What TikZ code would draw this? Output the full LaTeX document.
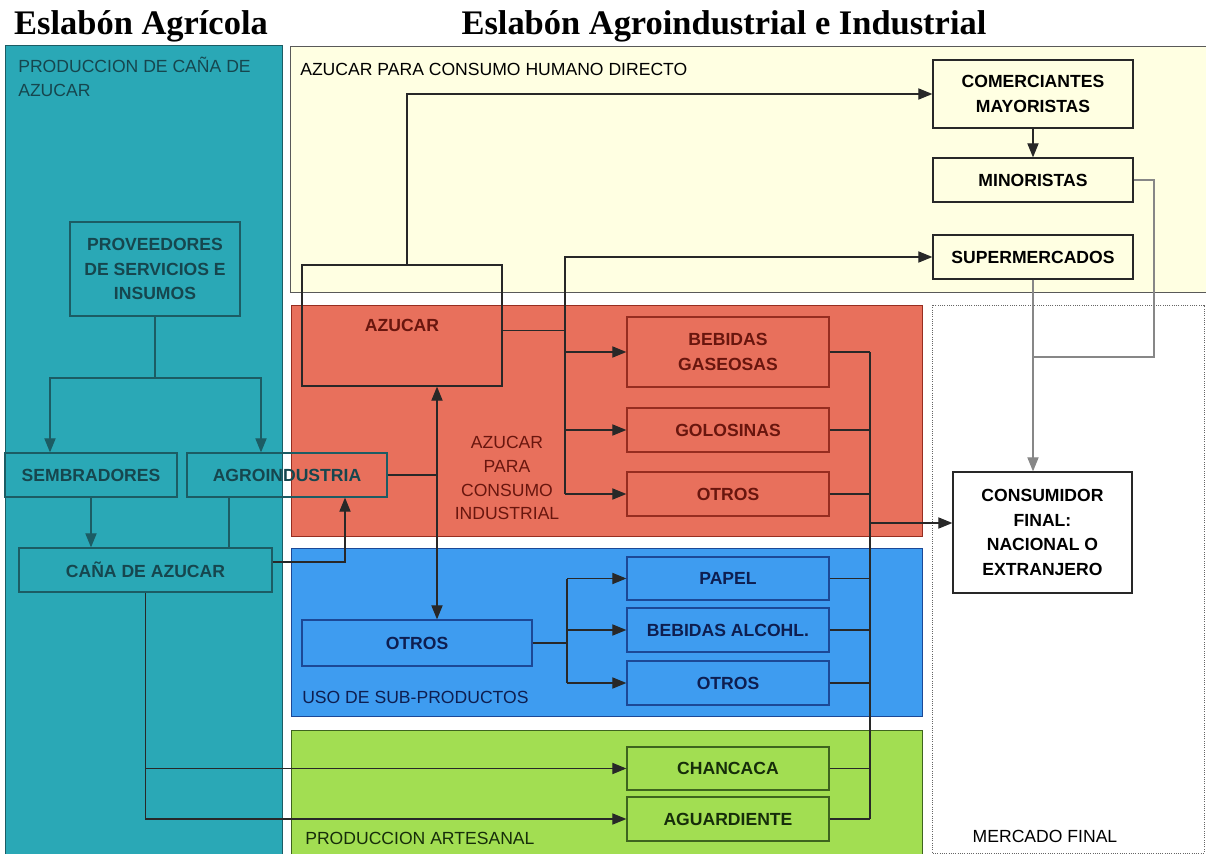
\documentclass[tikz,border=0pt]{standalone}
\usepackage{fontspec}
\setmainfont{Liberation Sans}
\newfontfamily\titlefont{Liberation Serif}
\usetikzlibrary{arrows.meta}

\definecolor{teal}{RGB}{42,168,182}
\definecolor{tealborde}{RGB}{28,92,100}
\definecolor{tealtexto}{RGB}{22,70,78}
\definecolor{amarillo}{RGB}{255,255,226}
\definecolor{rojo}{RGB}{232,112,92}
\definecolor{rojoborde}{RGB}{150,45,32}
\definecolor{rojotexto}{RGB}{105,22,14}
\definecolor{azul}{RGB}{62,156,240}
\definecolor{azulborde}{RGB}{28,72,150}
\definecolor{azultexto}{RGB}{14,30,80}
\definecolor{verde}{RGB}{162,222,82}
\definecolor{verdeborde}{RGB}{62,100,30}
\definecolor{verdetexto}{RGB}{22,45,10}
\definecolor{lineacol}{RGB}{40,40,40}
\definecolor{grisclaro}{RGB}{135,135,135}

\tikzset{
  titulo/.style={font=\titlefont\bfseries\fontsize{24.5}{28}\selectfont, inner sep=0pt},
  panel/.style={line width=0.6pt},
  rotulo/.style={font=\fontsize{12.5}{17}\selectfont, inner sep=0pt},
  caja/.style={draw, line width=0.9pt, inner sep=0pt, align=center,
    minimum width=5.05cm, minimum height=1.1cm,
    font=\bfseries\fontsize{12.5}{17.5}\selectfont},
  cajateal/.style={caja, draw=tealborde, text=tealtexto},
  cajaroja/.style={caja, draw=rojoborde, text=rojotexto},
  cajaazul/.style={caja, draw=azulborde, text=azultexto},
  cajaverde/.style={caja, draw=verdeborde, text=verdetexto},
  cajaamar/.style={caja, draw=lineacol, text=black},
  linea/.style={draw=lineacol, line width=0.8pt},
  flecha/.style={linea, -{Triangle[length=10pt,width=8pt]}},
  dflecha/.style={linea, {Triangle[length=10pt,width=8pt]}-{Triangle[length=10pt,width=8pt]}},
}

\begin{document}
\begin{tikzpicture}[x=0.025cm,y=-0.025cm]
\useasboundingbox (0,0) rectangle (1206,854);
% titulos
\node[titulo] (tagr) at (141,26) {Eslabón Agrícola};
\node[titulo] (tind) at (724,26) {Eslabón Agroindustrial e Industrial};
% paneles
\draw[panel, fill=teal, draw=tealborde] (5,45) rectangle (282,854);
\draw[panel, fill=amarillo, draw=gray!70!black] (290,46) rectangle (1206,292);
\draw[panel, fill=rojo, draw=rojoborde] (291,305) rectangle (922,536);
\draw[panel, fill=azul, draw=azulborde] (291,548) rectangle (922,716);
\draw[panel, fill=verde, draw=verdeborde] (291,730) rectangle (922,854);
\draw[panel, densely dotted, draw=gray!80!black] (932,305) rectangle (1204,853);
\node[rotulo, text=tealtexto, anchor=north west, align=left] (lprod) at (18,57) {PRODUCCION DE CAÑA DE\\AZUCAR};
\node[rotulo, anchor=west] (lhum) at (300,69) {AZUCAR PARA CONSUMO HUMANO DIRECTO};
\node[rotulo, text=rojotexto, align=center] (lind) at (507,478) {AZUCAR\\PARA\\CONSUMO\\INDUSTRIAL};
\node[rotulo, text=azultexto, anchor=west] (lsub) at (302,697) {USO DE SUB-PRODUCTOS};
\node[rotulo, text=verdetexto, anchor=west] (lart) at (305,838) {PRODUCCION ARTESANAL};
\node[rotulo] (lmer) at (1045,836) {MERCADO FINAL};
% eslabon agricola
\node[cajateal, minimum width=4.25cm, minimum height=2.35cm] (prov) at (155,269) {PROVEEDORES\\DE SERVICIOS E\\INSUMOS};
\node[cajateal, minimum width=4.3cm] (semb) at (91,475) {SEMBRADORES};
\node[cajateal, minimum width=5cm] (agro) at (287,475) {AGROINDUSTRIA};
\node[cajateal, minimum width=6.325cm] (cana) at (145.5,570) {CAÑA DE AZUCAR};
% eslabon industrial
\node[cajaroja, draw=lineacol, minimum width=5cm, minimum height=3.025cm] (azu) at (402,325.5) {AZUCAR};
\node[cajaroja, minimum height=1.75cm] (beb) at (728,352) {BEBIDAS\\GASEOSAS};
\node[cajaroja] (gol) at (728,430) {GOLOSINAS};
\node[cajaroja] (otr) at (728,494) {OTROS};
\node[cajaazul, minimum width=5.75cm, minimum height=1.15cm] (otb) at (417,643) {OTROS};
\node[cajaazul, minimum height=1.075cm] (pap) at (728,578.5) {PAPEL};
\node[cajaazul] (bal) at (728,630) {BEBIDAS ALCOHL.};
\node[cajaazul] (otc) at (728,683) {OTROS};
\node[cajaverde, minimum height=1.075cm] (cha) at (728,768.5) {CHANCACA};
\node[cajaverde] (agu) at (728,819) {AGUARDIENTE};
% comercio y mercado final
\node[cajaamar, minimum width=5cm, minimum height=1.7cm] (com) at (1033,94) {COMERCIANTES\\MAYORISTAS};
\node[cajaamar, minimum width=5cm] (mino) at (1033,180) {MINORISTAS};
\node[cajaamar, minimum width=5cm] (super) at (1033,257) {SUPERMERCADOS};
\node[cajaamar, fill=white, minimum width=4.475cm, minimum height=3.025cm] (con) at (1042.5,532.5) {CONSUMIDOR\\FINAL:\\NACIONAL O\\EXTRANJERO};
% conectores eslabon agricola
\coordinate (jp) at (155,378);
\coordinate (xsem) at (50,0);
\coordinate (xagr) at (261,0);
\coordinate (xagc) at (229,0);
\coordinate (xcan) at (345,0);
\draw[linea, draw=tealborde] (prov.south) -- (jp);
\draw[flecha, draw=tealborde] (jp) -| (xsem |- semb.north);
\draw[flecha, draw=tealborde] (jp) -| (xagr |- agro.north);
\draw[flecha, draw=tealborde] (semb.south) -- (semb.south |- cana.north);
\draw[linea, draw=tealborde] (xagc |- agro.south) -- (xagc |- cana.north);
\draw[flecha] ([yshift=0.2cm]cana.east) -| (xcan |- agro.south);
\draw[flecha] (cana.south) |- (agu.west);
\draw[flecha] (cana.south |- cha.west) -- (cha.west);
% conectores azucar
\coordinate (xdob) at (437,0);
\coordinate (xhum) at (407,0);
\coordinate (xind) at (565,0);
\draw[linea] (agro.east) -- (xdob |- agro.east);
\draw[dflecha] (xdob |- azu.south) -- (xdob |- otb.north);
\draw[flecha] (xhum |- azu.north) |- (com.west);
\draw[linea] ([yshift=-0.12cm]azu.east) -- ([yshift=-0.12cm]xind |- azu.east);
\draw[flecha] (xind |- otr.west) |- (super.west);
\foreach \n in {beb,gol,otr}
  \draw[flecha] (xind |- \n.west) -- (\n.west);
% conectores sub-productos
\coordinate (xsub) at (567,0);
\draw[linea] (otb.east) -- (xsub |- otb.east);
\draw[linea] (xsub |- pap.west) -- (xsub |- otc.west);
\foreach \n in {pap,bal,otc}
  \draw[flecha] (xsub |- \n.west) -- (\n.west);
% hacia el consumidor final
\coordinate (xcol) at (870,0);
\coordinate (jc) at (870,523);
\draw[linea] (xcol |- beb.east) -- (xcol |- agu.east);
\foreach \n in {beb,gol,otr,pap,bal,otc,cha,agu}
  \draw[linea] (\n.east) -- (xcol |- \n.east);
\draw[flecha] (jc) -- (jc -| con.west);
\draw[flecha] (com.south) -- (mino.north);
\coordinate (jm) at (1154,357);
\draw[linea, draw=grisclaro] (mino.east) -| (jm) -- (jm -| super.south);
\draw[flecha, draw=grisclaro] (super.south) -- (super.south |- con.north);
\end{tikzpicture}
\end{document}
